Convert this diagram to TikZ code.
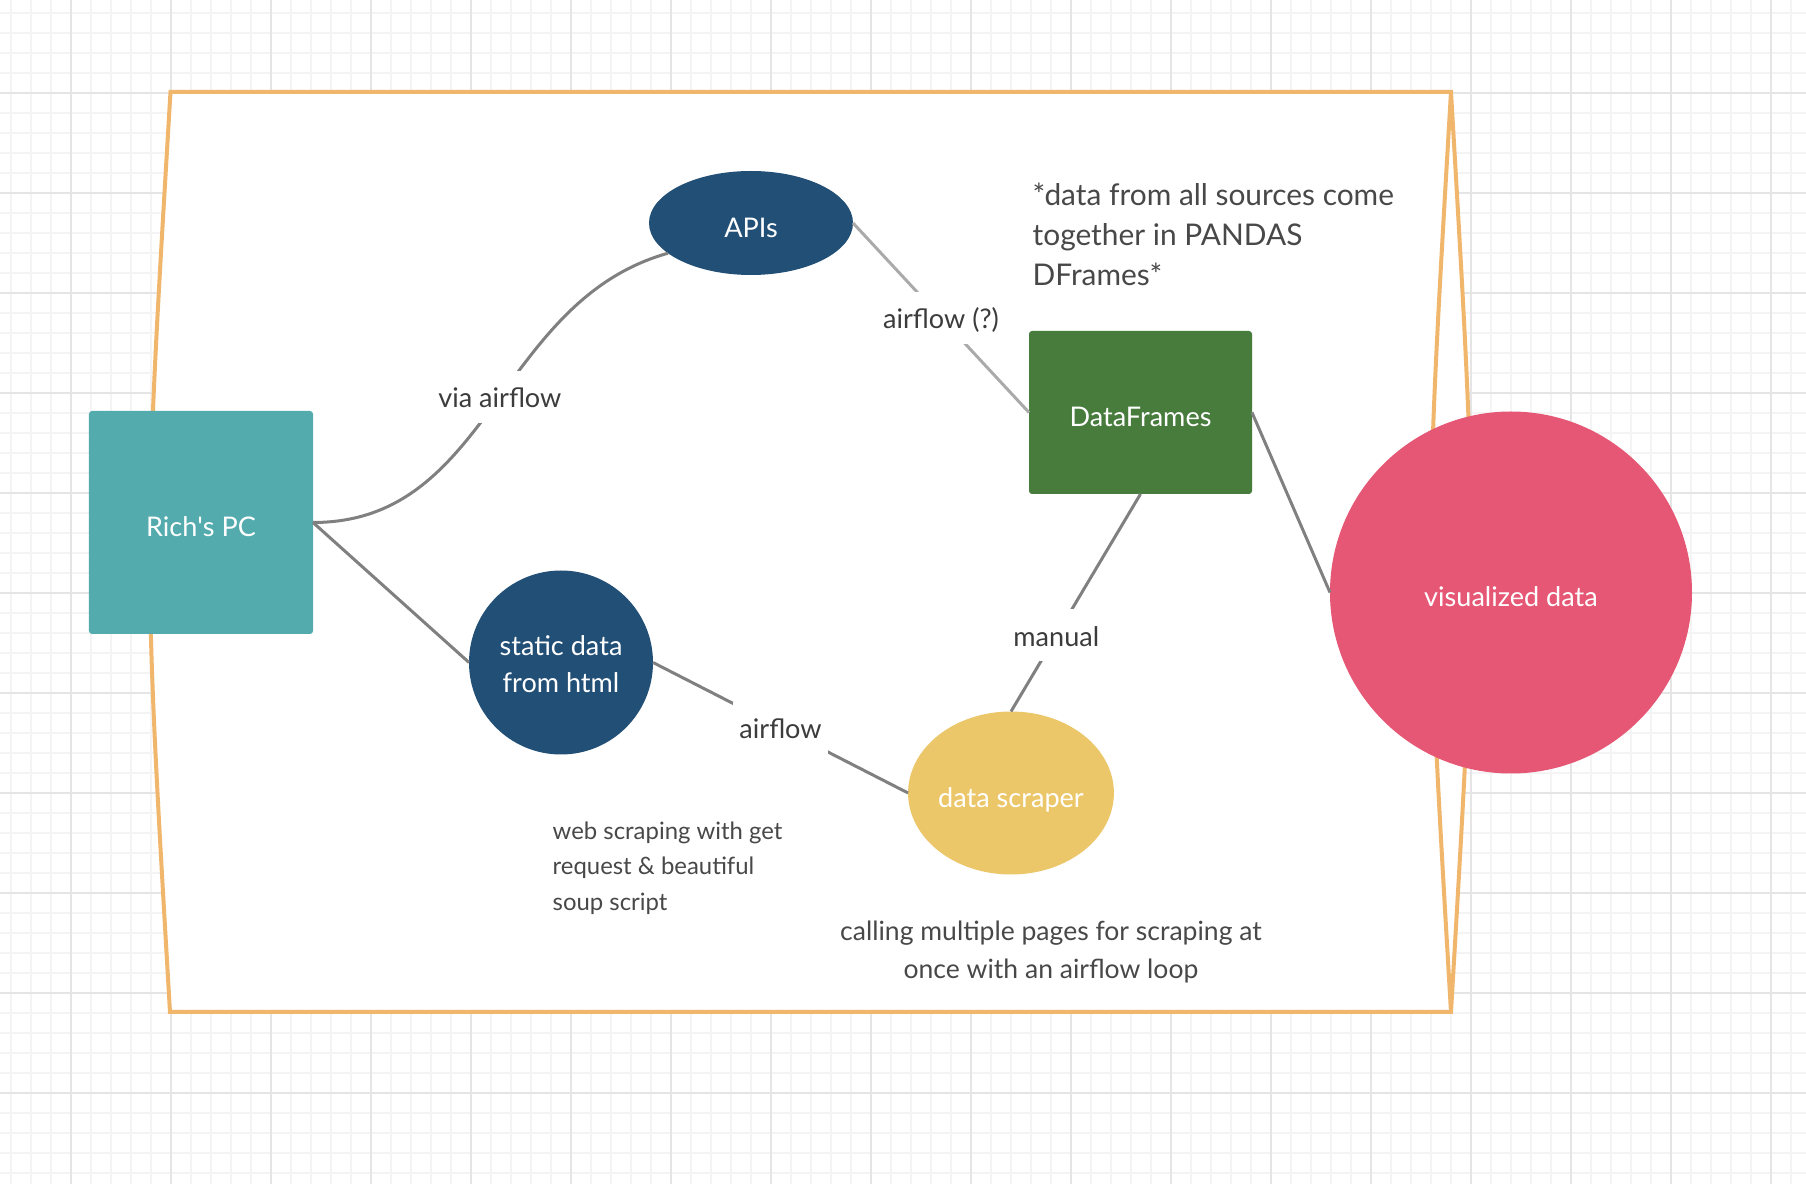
\documentclass[tikz,border=0pt]{standalone}
\usepackage{fontspec}
\setmainfont{Lato}
\usetikzlibrary{shapes.geometric}
\definecolor{gridmajor}{RGB}{229,229,229}
\definecolor{gridminor}{RGB}{244,244,244}
\definecolor{frameorange}{RGB}{240,182,108}
\definecolor{pcteal}{RGB}{84,171,173}
\definecolor{apinavy}{RGB}{34,79,118}
\definecolor{dfgreen}{RGB}{71,124,61}
\definecolor{scraperyellow}{RGB}{236,199,106}
\definecolor{vispink}{RGB}{229,87,116}
\definecolor{linkgrey}{RGB}{128,128,128}
\definecolor{linklight}{RGB}{170,170,170}
\definecolor{textgrey}{RGB}{60,60,60}
\definecolor{notegrey}{RGB}{72,72,72}
\newcommand{\nodetxt}{\fontsize{7.7}{10.7}\selectfont}	% text in the shapes and on the links
\newcommand{\notetxt}{\fontsize{8.5}{11.4}\selectfont}	% note top right
\newcommand{\smalltxt}{\fontsize{6.8}{10.1}\selectfont}	% note below static data
\newcommand{\calltxt}{\fontsize{7.55}{10.8}\selectfont}	% note below scraper
\tikzset{
	oneline/.style={text height=0.8em,text depth=0pt},
	boxnode/.style={rectangle,rounded corners=0.03cm,inner sep=0,outer sep=0,text=white,font=\nodetxt,oneline},
	ovalnode/.style={ellipse,inner sep=0,outer sep=0,text=white,font=\nodetxt,align=center},
	link/.style={draw=linkgrey,line width=0.03cm},
	linklabel/.style={fill=white,text=textgrey,font=\nodetxt,inner xsep=0.06cm,inner ysep=0,minimum height=0.52cm,text height=0.62em,text depth=0pt},
	notetext/.style={text=notegrey,inner sep=0}
}

\begin{document}
\begin{tikzpicture}[x=1cm,y=-1cm]
	\useasboundingbox (0,0) rectangle (18.06,11.84);
	\fill[white] (0,0) rectangle (18.06,11.84);

	%grid paper
	\foreach \x in {0.11,0.31,...,18.05} \draw[gridminor,line width=0.02cm] (\x,0)--(\x,11.84);
	\foreach \y in {0.13,0.33,...,11.83} \draw[gridminor,line width=0.02cm] (0,\y)--(18.06,\y);
	\foreach \x in {0.71,1.71,...,17.8} \draw[gridmajor,line width=0.02cm] (\x,0)--(\x,11.84);
	\foreach \y in {0.93,1.93,...,11.8} \draw[gridmajor,line width=0.02cm] (0,\y)--(18.06,\y);

	%frame
	\draw[frameorange,fill=white,line width=0.04cm,line join=miter]
		(1.705,0.92)--(14.51,0.92) .. controls (14.78,5.52) .. (14.51,10.12)
		--(1.70,10.12) .. controls (1.43,5.52) .. cycle;
	\draw[frameorange,line width=0.04cm] (14.51,0.92) .. controls (14.24,5.52) .. (14.51,10.12);	%inner side

	%shapes
	\node[boxnode,fill=pcteal,minimum width=2.24cm,minimum height=2.23cm] (pc) at (2.01,5.225) {Rich\textquotesingle s PC};
	\node[ovalnode,oneline,fill=apinavy,minimum width=2.04cm,minimum height=1.04cm] (api) at (7.51,2.23) {APIs};
	\node[ovalnode,fill=apinavy,minimum width=1.84cm,minimum height=1.84cm] (static) at (5.61,6.625)
		{\raisebox{-0.04cm}[\height][\depth]{\begin{tabular}{@{}c@{}}static data\\from html\end{tabular}}};
	\node[boxnode,fill=dfgreen,minimum width=2.23cm,minimum height=1.63cm] (df) at (11.405,4.125) {DataFrames};
	\node[ovalnode,oneline,fill=scraperyellow,minimum width=2.03cm,minimum height=1.63cm] (scraper) at (10.11,7.93) {data scraper};
	\node[ovalnode,oneline,fill=vispink,minimum width=3.62cm,minimum height=3.62cm] (vis) at (15.11,5.925) {visualized data};

	%links
	\draw[link] (pc.east) .. controls +(1.78,0) and +(-1.71,0.48) .. (api.200)
		node[linklabel,pos=0.525] (viaair) {via airflow};
	\draw[link] (pc.east)--(static.west);
	\draw[link,draw=linklight] (api.east)--(df.west) node[linklabel,midway] (airmaybe) {airflow (?)};
	\draw[link] (static.east)--(scraper.west) node[linklabel,midway] (airstatic) {airflow};
	\draw[link] (df.south)--(scraper.north) node[linklabel,pos=0.65] (manual) {manual};
	\draw[link] (df.east)--(vis.west);

	%notes
	\node[notetext,font=\notetxt,align=left,anchor=north west] (dfnote) at (10.32,1.82)
		{*data from all sources come\\together in PANDAS\\DFrames*};
	\node[notetext,font=\smalltxt,align=left,anchor=north west] (webnote) at (5.52,8.21)
		{web scraping with get\\request \& beautiful\\soup script};
	\node[notetext,font=\calltxt,align=center,anchor=north] (callnote) at (10.51,9.2)
		{calling multiple pages for scraping at\\once with an airflow loop};
\end{tikzpicture}
\end{document}
